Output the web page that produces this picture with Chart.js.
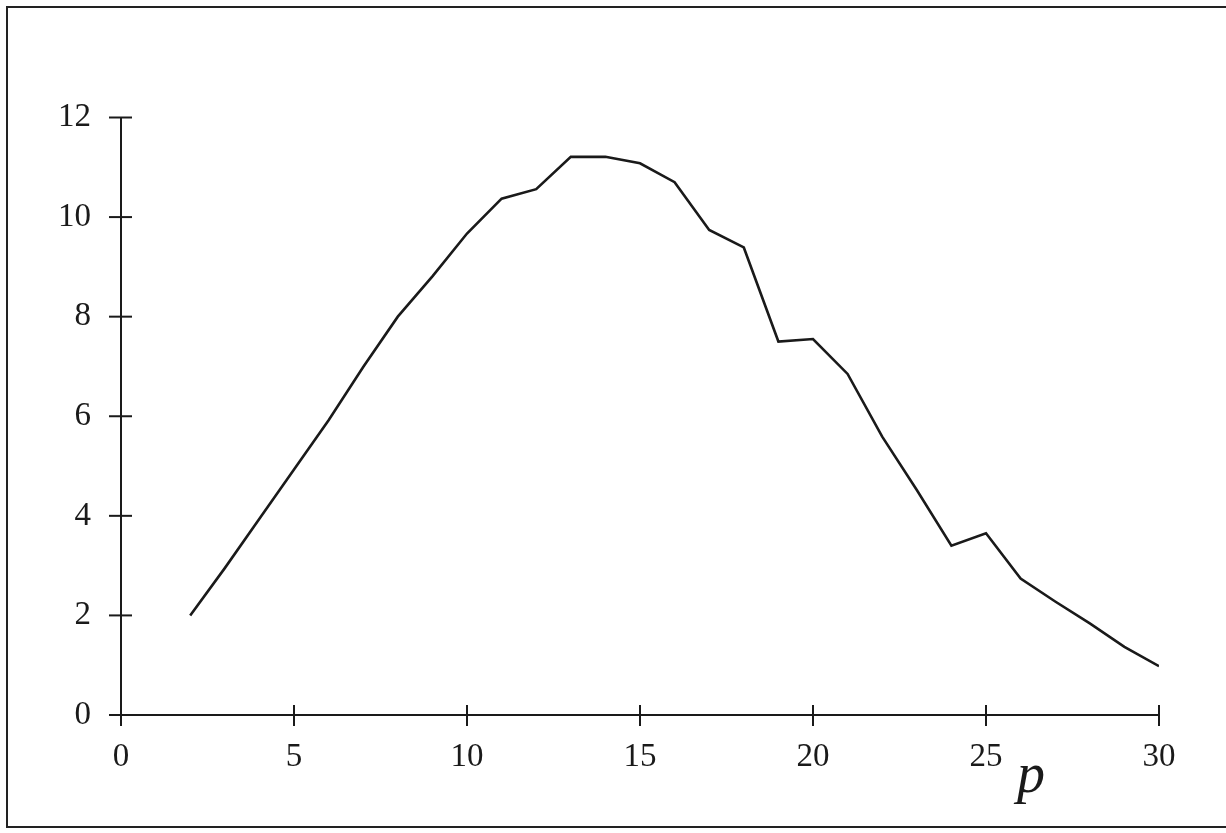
<!DOCTYPE html>
<html>
<head>
<meta charset="utf-8">
<script src="https://cdn.jsdelivr.net/npm/chart.js@4/dist/chart.umd.min.js"></script>
<style>
  html, body { margin: 0; padding: 0; background: #fff; }
  #wrap { position: relative; width: 1226px; height: 833px; overflow: hidden; }
  #frame {
    position: absolute; left: 6px; top: 6px; width: 1240px; height: 822px;
    border: 2.5px solid #222; box-sizing: border-box; pointer-events: none;
  }
  canvas { position: absolute; left: 0; top: 0; }
</style>
</head>
<body>
<div id="wrap">
  <canvas id="chart" width="1226" height="833"></canvas>
  <div id="frame"></div>
</div>
<script>
// ─── Data ────────────────────────────────────────────────────────
const pValues = [2, 3, 4, 5, 6, 7, 8, 9, 10, 11, 12, 13, 14, 15, 16,
                 17, 18, 19, 20, 21, 22, 23, 24, 25, 26, 27, 28, 29, 30];
const seriesValues = [2.0, 2.95, 3.94, 4.93, 5.92, 6.99, 8.0, 8.81, 9.67, 10.37,
                      10.56, 11.21, 11.21, 11.08, 10.70, 9.74, 9.39, 7.50, 7.55, 6.85,
                      5.59, 4.52, 3.40, 3.65, 2.74, 2.28, 1.84, 1.37, 0.98];
const xTicks = [0, 5, 10, 15, 20, 25, 30];
const yTicks = [0, 2, 4, 6, 8, 10, 12];
const xLabel = "p";

const ink = "#1a1a1a";
const serif = "'Liberation Serif', 'DejaVu Serif', serif";

// ─── Crossing tick marks + axis label ────────────────────────────
const crossTicks = {
    id: "crossTicks",
    afterDraw(chart) {
        const ctx = chart.ctx;
        const xs = chart.scales.x, ys = chart.scales.y;
        const x0 = xs.getPixelForValue(0), y0 = ys.getPixelForValue(0);
        ctx.save();
        ctx.strokeStyle = ink;
        ctx.lineWidth = 2;
        xTicks.forEach(v => {
            const px = xs.getPixelForValue(v);
            ctx.beginPath();
            ctx.moveTo(px, y0 - 10);
            ctx.lineTo(px, y0 + 11);
            ctx.stroke();
        });
        yTicks.forEach(v => {
            const py = ys.getPixelForValue(v);
            ctx.beginPath();
            ctx.moveTo(x0 - 12, py);
            ctx.lineTo(x0 + 11, py);
            ctx.stroke();
        });
        // italic p under the axis, between 25 and 30
        ctx.fillStyle = ink;
        ctx.font = "italic 56px " + serif;
        ctx.textAlign = "center";
        ctx.textBaseline = "alphabetic";
        ctx.fillText(xLabel, xs.getPixelForValue(26.3), y0 + 77);
        ctx.restore();
    }
};

new Chart(document.getElementById("chart").getContext("2d"), {
    type: "line",
    data: {
        datasets: [{
            data: pValues.map((p, i) => ({ x: p, y: seriesValues[i] })),
            borderColor: ink,
            borderWidth: 2.6,
            pointRadius: 0,
            tension: 0,
            fill: false
        }]
    },
    options: {
        responsive: false,
        animation: false,
        events: [],
        layout: { padding: { left: 0, right: 67, top: 117.5, bottom: 0 } },
        plugins: { legend: { display: false }, tooltip: { enabled: false } },
        scales: {
            x: {
                type: "linear",
                min: 0, max: 30,
                afterFit: s => { s.height = 118; },
                afterBuildTicks: s => { s.ticks = xTicks.map(v => ({ value: v })); },
                ticks: { color: ink, padding: 23, maxRotation: 0, font: { family: serif, size: 33 } },
                grid: { display: true, drawOnChartArea: false, drawTicks: false },
                border: { display: true, color: ink, width: 2 }
            },
            y: {
                type: "linear",
                min: 0, max: 12,
                afterFit: s => { s.width = 121; },
                afterBuildTicks: s => { s.ticks = yTicks.map(v => ({ value: v })); },
                ticks: { color: ink, padding: 30, font: { family: serif, size: 33 } },
                grid: { display: true, drawOnChartArea: false, drawTicks: false },
                border: { display: true, color: ink, width: 2 }
            }
        }
    },
    plugins: [crossTicks]
});
</script>
</body>
</html>
